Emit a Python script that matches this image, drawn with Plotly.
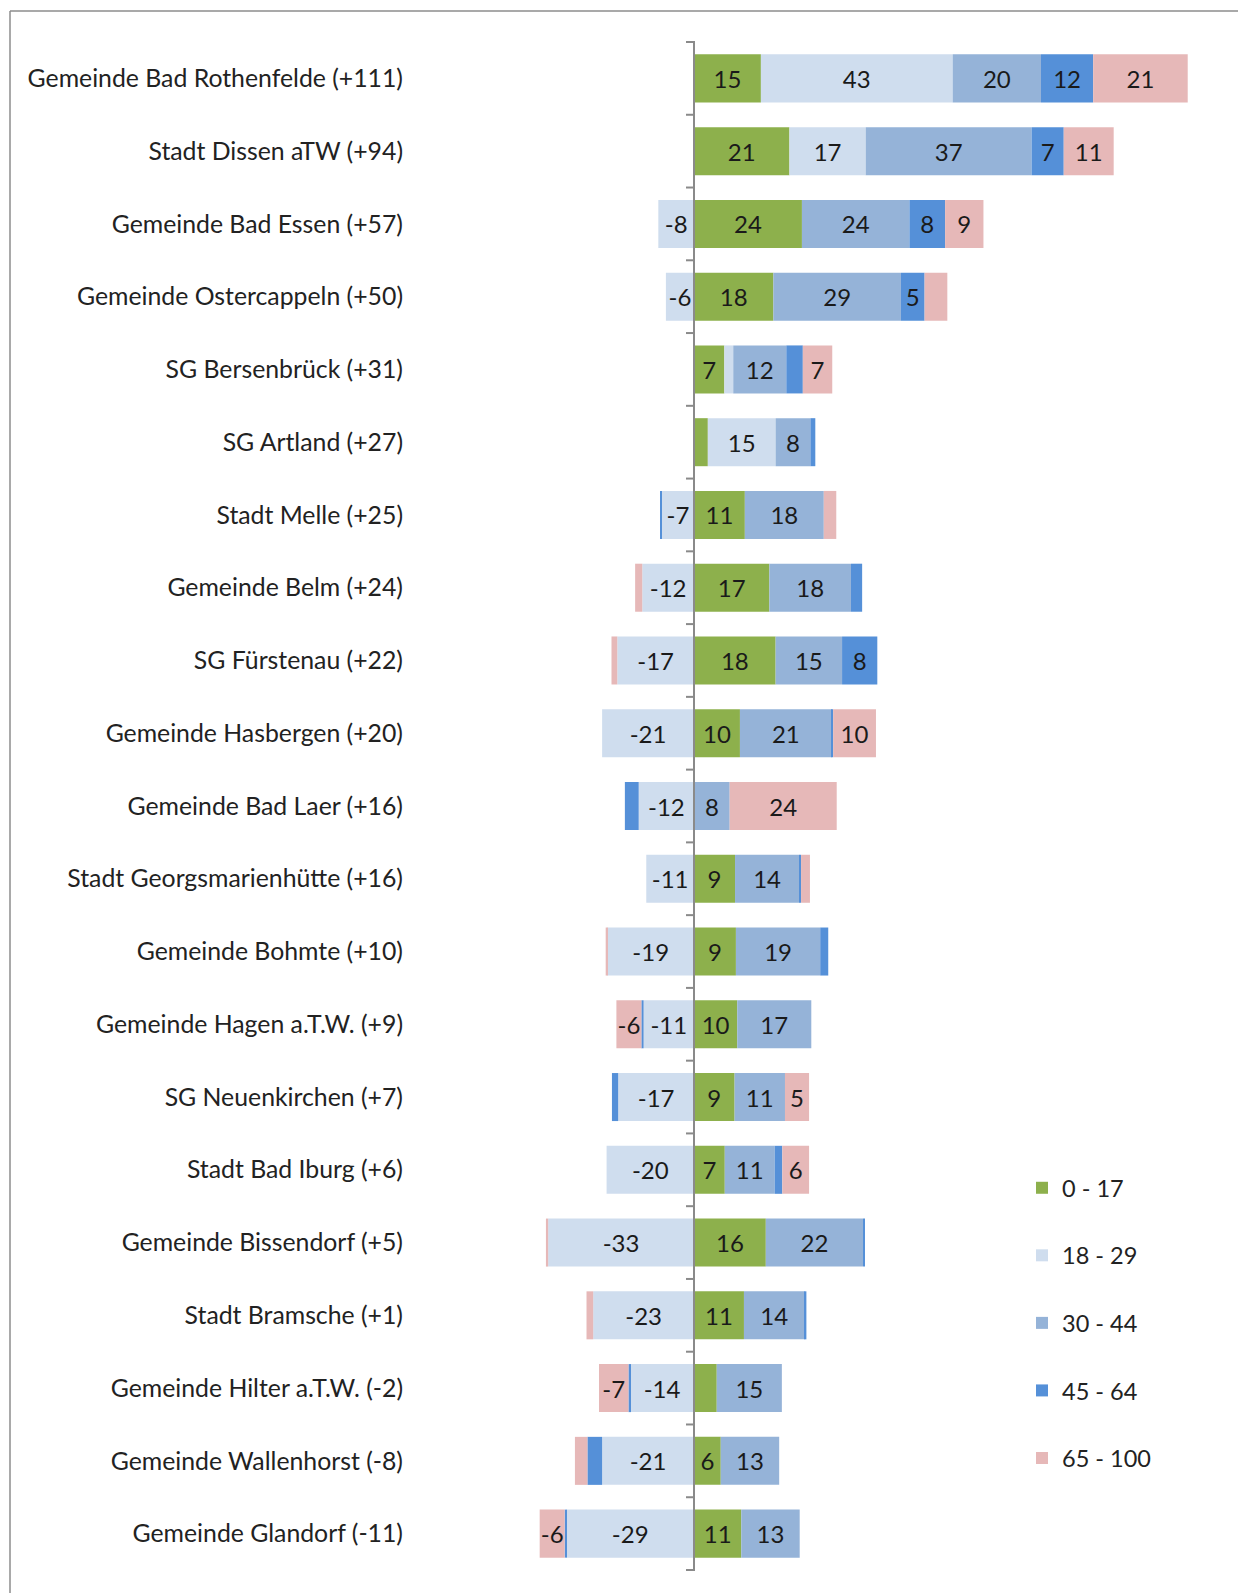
import plotly.graph_objects as go

# municipalities, top to bottom
gemeinden = [
    "Gemeinde Bad Rothenfelde (+111)",
    "Stadt Dissen aTW (+94)",
    "Gemeinde Bad Essen (+57)",
    "Gemeinde Ostercappeln (+50)",
    "SG Bersenbrück (+31)",
    "SG Artland (+27)",
    "Stadt Melle (+25)",
    "Gemeinde Belm (+24)",
    "SG Fürstenau (+22)",
    "Gemeinde Hasbergen (+20)",
    "Gemeinde Bad Laer (+16)",
    "Stadt Georgsmarienhütte (+16)",
    "Gemeinde Bohmte (+10)",
    "Gemeinde Hagen a.T.W. (+9)",
    "SG Neuenkirchen (+7)",
    "Stadt Bad Iburg (+6)",
    "Gemeinde Bissendorf (+5)",
    "Stadt Bramsche (+1)",
    "Gemeinde Hilter a.T.W. (-2)",
    "Gemeinde Wallenhorst (-8)",
    "Gemeinde Glandorf (-11)",
]

# change per age group
age_0_17 = [15, 21.4, 24.2, 17.8, 6.8, 3.1, 11.4, 16.9, 18.3, 10.3, 0, 9.2, 9.4, 9.7, 9.1, 6.9, 16.1, 11.2, 5.1, 6.0, 10.6]
age_18_29 = [43, 17.1, -8.0, -6.3, 2.0, 15.2, -7.2, -11.6, -17.2, -20.6, -12.4, -10.7, -19.4, -11.3, -17.0, -19.6, -32.7, -22.6, -14.3, -20.6, -28.6]
age_30_44 = [19.8, 37.2, 24.1, 28.6, 11.9, 7.8, 17.7, 18.3, 14.9, 20.6, 8.0, 14.4, 18.9, 16.6, 11.3, 11.2, 21.8, 13.6, 14.6, 13.1, 13.1]
age_45_64 = [11.7, 7.2, 8.0, 5.3, 3.7, 1.1, -0.3, 2.5, 7.9, 0.3, -3.1, 0.4, 1.8, -0.5, -1.4, 1.7, 0.3, 0.4, -0.4, -3.3, -0.4]
age_65_100 = [21.2, 11.2, 8.6, 5.1, 6.6, 0, 2.8, -1.6, -1.3, 9.6, 24.0, 2.0, -0.4, -5.6, 5.4, 6.0, -0.5, -1.5, -6.6, -2.8, -5.6]

groups = ["0 - 17", "18 - 29", "30 - 44", "45 - 64", "65 - 100"]
series = [age_0_17, age_18_29, age_30_44, age_45_64, age_65_100]
colors = ["#8DB04C", "#CFDDEE", "#95B3D8", "#5590D8", "#E6B8B8"]

# page has an 8px body margin, so the figure is laid out 8px smaller
W, H = 1238, 1585
ML, MR, MT, MB = 402, 10, 33, 22
plot_w = W - ML - MR
plot_h = H - MT - MB
zero_px = 686
px_per_unit = 4.46
xmin = -(zero_px - ML) / px_per_unit
xmax = (W - MR - zero_px) / px_per_unit


def px_to_paper(px, py):
    return (px - ML) / plot_w, 1 - (py - MT) / plot_h


fig = go.Figure()
for name, vals, col in zip(groups, series, colors):
    # small segments carry no label
    labels = [f"{v:.0f}" if abs(v) >= 5.2 else "" for v in vals]
    fig.add_trace(go.Bar(
        y=gemeinden, x=vals, name=name, orientation="h",
        marker=dict(color=col, line=dict(width=0)),
        text=labels, textposition="inside", insidetextanchor="middle",
        textangle=0, textfont=dict(size=24, color="#1a1a1a", family="Lato"),
        legendgroup=name,
    ))

shapes = []
# vertical axis at zero
shapes.append(dict(type="line", xref="x", yref="paper", x0=0, x1=0, y0=0, y1=1,
                   line=dict(color="#8a8a8a", width=2)))
# tick marks between categories
for i in range(len(gemeinden) + 1):
    shapes.append(dict(type="line", xref="x", yref="y", xsizemode="pixel", xanchor=0,
                       x0=-8, x1=0, y0=i - 0.5, y1=i - 0.5,
                       line=dict(color="#8a8a8a", width=2)))
# chart frame (top and left edge)
x0p, y0p = px_to_paper(2, 3)
x1p, _ = px_to_paper(W + 5, 3)
_, y1p = px_to_paper(2, H + 5)
shapes.append(dict(type="line", xref="paper", yref="paper", x0=x0p, x1=x1p, y0=y0p, y1=y0p,
                   line=dict(color="#8c8c8c", width=1.5)))
shapes.append(dict(type="line", xref="paper", yref="paper", x0=x0p, x1=x0p, y0=y0p, y1=y1p,
                   line=dict(color="#8c8c8c", width=1.5)))

lx, ly = px_to_paper(1014, 1158)
fig.update_layout(
    width=W, height=H,
    margin=dict(l=ML, r=MR, t=MT, b=MB),
    barmode="relative", bargap=0.34,
    plot_bgcolor="white", paper_bgcolor="white",
    font=dict(family="Lato", size=22, color="#222222"),
    xaxis=dict(range=[xmin, xmax], showticklabels=False, showgrid=False,
               zeroline=False, showline=False, fixedrange=True, automargin=False),
    yaxis=dict(autorange="reversed", showgrid=False, showline=False, ticks="",
               automargin=False, ticklabelstandoff=6,
               tickfont=dict(size=24.8, color="#222222", family="Lato")),
    legend=dict(x=lx, y=ly, xanchor="left", yanchor="top", traceorder="grouped",
                tracegroupgap=34, font=dict(size=23.5, color="#222222"),
                bgcolor="rgba(0,0,0,0)"),
    uniformtext=dict(minsize=24, mode="show"),
    shapes=shapes,
)

fig.write_html("out.html")
